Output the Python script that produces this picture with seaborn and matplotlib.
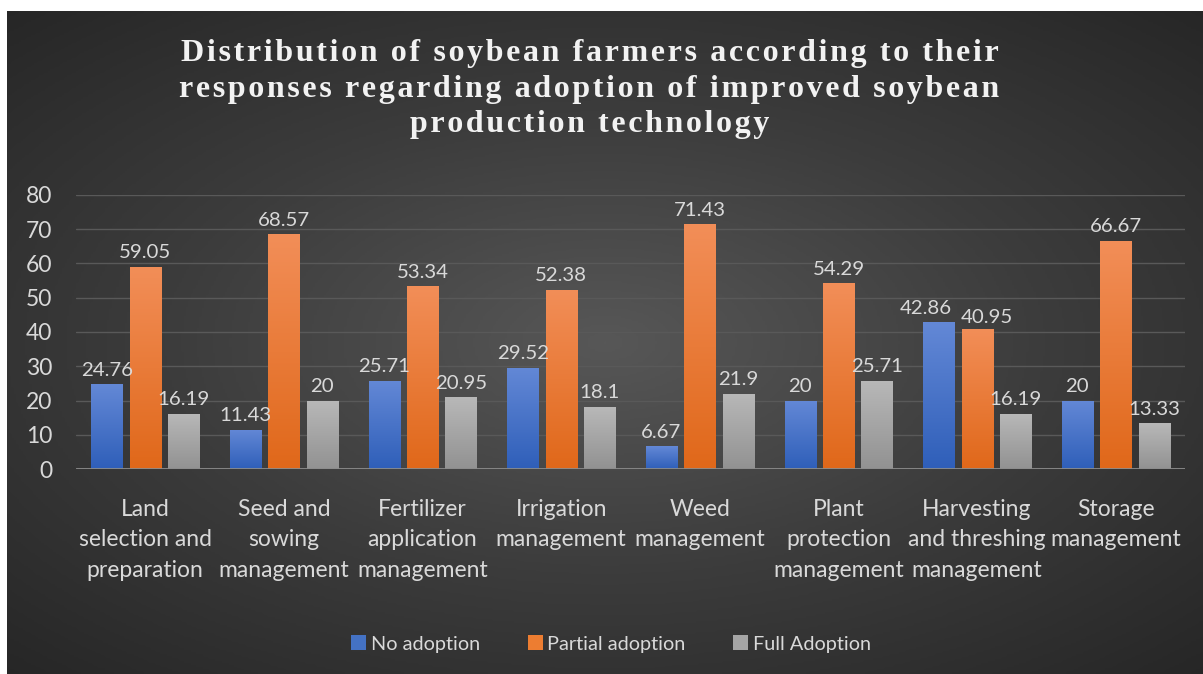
import numpy as np
import pandas as pd
import matplotlib
matplotlib.use("Agg")
import matplotlib.pyplot as plt
import seaborn as sns
from matplotlib.colors import LinearSegmentedColormap
from matplotlib.patches import Patch

categories = ["Land\nselection and\npreparation", "Seed and\nsowing\nmanagement",
              "Fertilizer\napplication\nmanagement", "Irrigation\nmanagement",
              "Weed\nmanagement", "Plant\nprotection\nmanagement",
              "Harvesting\nand threshing\nmanagement", "Storage\nmanagement"]
series = ["No adoption", "Partial adoption", "Full Adoption"]
no_adoption = [24.76, 11.43, 25.71, 29.52, 6.67, 20, 42.86, 20]
partial_adoption = [59.05, 68.57, 53.34, 52.38, 71.43, 54.29, 40.95, 66.67]
full_adoption = [16.19, 20, 20.95, 18.1, 21.9, 25.71, 16.19, 13.33]
title_lines = ["Distribution of soybean farmers according to their",
               "responses regarding adoption of improved soybean",
               "production technology"]

df = pd.DataFrame({
    "category": categories * 3,
    "series": [series[0]] * 8 + [series[1]] * 8 + [series[2]] * 8,
    "value": no_adoption + partial_adoption + full_adoption,
})

grads = {
    "No adoption": ("#2f5fb9", "#6388d6"),
    "Partial adoption": ("#e0681a", "#f28e58"),
    "Full Adoption": ("#929292", "#b8b8b8"),
}
flat = {k: v[0] for k, v in grads.items()}
legend_cols = {"No adoption": "#4472c4", "Partial adoption": "#ed7d31", "Full Adoption": "#a5a5a5"}

sns.set_theme(style="dark")
plt.rcParams["font.family"] = ["Lato", "DejaVu Sans"]

fig = plt.figure(figsize=(12.03, 6.74), dpi=100)
fig.patch.set_facecolor("white")

# radial background
bg = fig.add_axes([7 / 1203, 0, 1196 / 1203, 663 / 674], zorder=-5)
yy, xx = np.mgrid[-1:1:300j, -1:1:500j]
r = np.sqrt((xx * 0.95) ** 2 + (yy * 1.0) ** 2)
bgcmap = LinearSegmentedColormap.from_list("bg", ["#575757", "#3c3c3c", "#262626"])
bg.imshow(np.clip(r / 1.4, 0, 1), cmap=bgcmap, aspect="auto", vmin=0, vmax=1)
bg.set_axis_off()

ax = fig.add_axes([76 / 1203, 205 / 674, 1109 / 1203, 274 / 674])
ax.patch.set_alpha(0)
sns.barplot(data=df, x="category", y="value", hue="series", palette=flat,
            width=0.83, gap=0.19, ax=ax, legend=False, zorder=3,
            edgecolor="none", linewidth=0)

# gradient fill for the bars
all_labels = []
for cont, s in zip(ax.containers, series):
    cmap = LinearSegmentedColormap.from_list(s, list(grads[s]))
    for p in cont.patches:
        x0, y0 = p.get_x(), p.get_y()
        w, h = p.get_width(), p.get_height()
        im = ax.imshow(np.linspace(0, 1, 100).reshape(-1, 1), cmap=cmap,
                       extent=[x0, x0 + w, y0, y0 + h], origin="lower",
                       aspect="auto", zorder=4)
        im.set_clip_path(p)
    labels = [f"{v:g}" for v in cont.datavalues]
    all_labels.append(ax.bar_label(cont, labels=labels, padding=4, color="#d9d9d9",
                                   fontsize=14.7, zorder=6))

# push apart the two crowded labels over "Harvesting", like the original
all_labels[0][6].xyann = (-9, 4)
all_labels[1][6].xyann = (7, 2)

ax.set_xlim(-0.5, 7.5)
ax.set_ylim(0, 80)
ax.set_yticks(range(0, 81, 10))
ax.grid(axis="y", color="#595959", linewidth=1, zorder=0)
ax.grid(axis="x", visible=False)
ax.axhline(0, color="#8c8c8c", linewidth=2, zorder=5)
for sp in ax.spines.values():
    sp.set_visible(False)
ax.set_xlabel("")
ax.set_ylabel("")
ax.tick_params(axis="y", length=0, pad=17, labelsize=16.5, labelcolor="#d9d9d9")
ax.tick_params(axis="x", length=0, pad=21.5, labelsize=16.5, labelcolor="#d9d9d9")
for t in ax.get_xticklabels():
    t.set_linespacing(1.55)

# title with letter spacing (hair spaces between characters)
spaced = "\n".join("\u200a".join(line) for line in title_lines)
fig.text(0.49, 1 - 89 / 674, spaced,
         ha="center", va="center", fontsize=23, fontweight="bold",
         family=["Liberation Serif", "DejaVu Serif"], color="#f2f2f2",
         linespacing=1.28)

handles = [Patch(facecolor=legend_cols[s], edgecolor="none", label=s) for s in series]
fig.legend(handles=handles, loc="center", bbox_to_anchor=(0.508, 1 - 644 / 674),
           ncol=3, frameon=False, fontsize=14.3, labelcolor="#d9d9d9",
           handlelength=0.75, handleheight=0.75, handletextpad=0.25, columnspacing=2.4)

fig.savefig("out.png", dpi=100)
